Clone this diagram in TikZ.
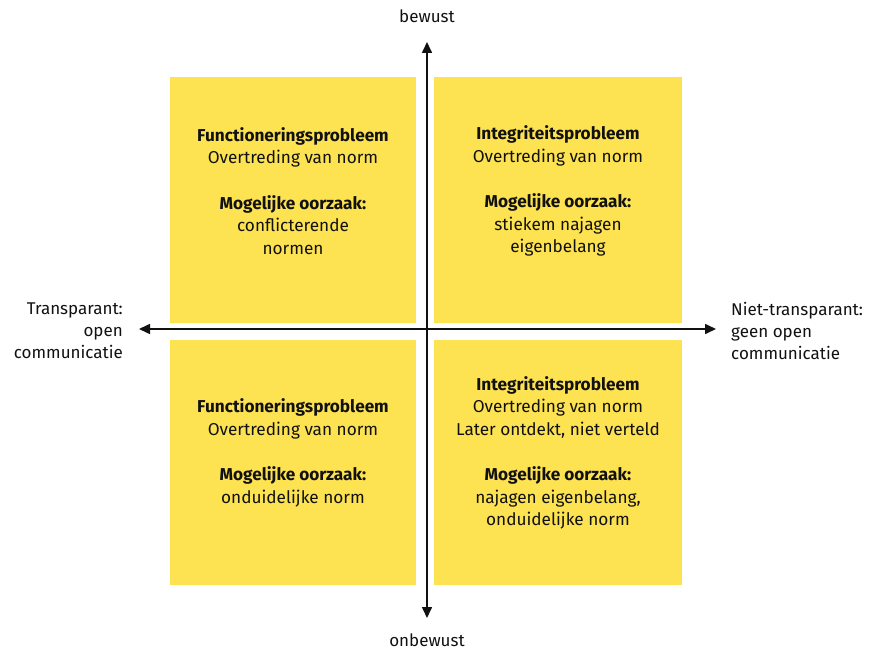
\documentclass[tikz,border=0pt]{standalone}
\usepackage{fontspec}
\setmainfont{Fira Sans}
\usetikzlibrary{arrows.meta}
\definecolor{quad}{HTML}{FDE251}
\definecolor{ink}{HTML}{111111}
\begin{document}
\begin{tikzpicture}[x=1pt,y=-1pt,
  quadbox/.style={fill=quad,draw=none,minimum width=246pt,minimum height=246pt,inner sep=0pt,outer sep=0pt},
  quadtext/.style={align=center,text=ink,font=\fontsize{17.2}{22.6}\selectfont,inner sep=0pt},
  sidelabel/.style={text=ink,font=\fontsize{17}{22.2}\selectfont,inner sep=0pt},
  axis/.style={line width=1.6pt,draw=ink,{Triangle[length=11pt,width=10pt]}-{Triangle[length=11pt,width=10pt]}}]
\useasboundingbox (0,0) rectangle (875,650);

% four quadrants
\node[quadbox] (tl) at (293,200) {};
\node[quadbox,minimum width=248pt] (tr) at (558,200) {};
\node[quadbox,minimum height=245pt] (bl) at (293,462.5) {};
\node[quadbox,minimum width=248pt,minimum height=245pt] (br) at (558,462.5) {};

% quadrant texts
\node[quadtext] (tltext) at (293,191) {\textbf{Functioneringsprobleem}\\Overtreding van norm\\[22.6pt]\textbf{Mogelijke oorzaak:}\\conflicterende\\normen};
\node[quadtext] (trtext) at (558,191) {\textbf{Integriteitsprobleem}\\Overtreding van norm\\[22.6pt]\textbf{Mogelijke oorzaak:}\\stiekem najagen\\eigenbelang};
\node[quadtext] (bltext) at (293,453) {\textbf{Functioneringsprobleem}\\Overtreding van norm\\[22.6pt]\textbf{Mogelijke oorzaak:}\\onduidelijke norm};
\node[quadtext] (brtext) at (558,453) {\textbf{Integriteitsprobleem}\\Overtreding van norm\\Later ontdekt, niet verteld\\[22.6pt]\textbf{Mogelijke oorzaak:}\\najagen eigenbelang,\\onduidelijke norm};

% axis ends
\coordinate (top) at (427,42);
\coordinate (bottom) at (427,618);
\coordinate (left) at (139,329);
\coordinate (right) at (716,329);
\draw[axis] (bottom) -- (top);
\draw[axis] (left) -- (right);

% axis labels
\node[sidelabel] (bewust) at (427,16) {bewust};
\node[sidelabel] (onbewust) at (427,640) {onbewust};
\node[sidelabel,align=right,anchor=east] (transp) at (123,331) {Transparant:\\open\\communicatie};
\node[sidelabel,align=left,anchor=west] (niettransp) at (731,331) {Niet-transparant:\\geen open\\communicatie};
\end{tikzpicture}
\end{document}
